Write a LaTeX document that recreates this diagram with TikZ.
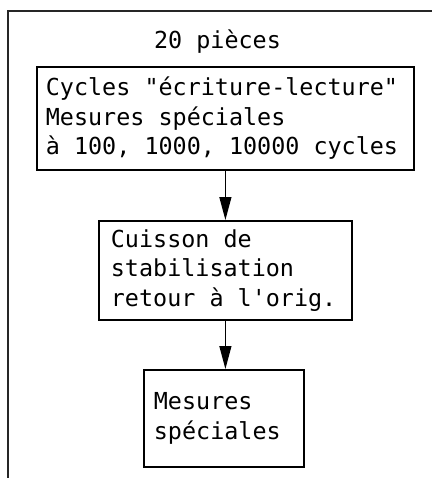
\documentclass[tikz,border=0pt]{standalone}
\usepackage{fontspec}
\setmonofont{DejaVu Sans Mono}
\usetikzlibrary{arrows.meta}
\newcommand\boxtextsetup{\raggedright\spaceskip=0pt\relax\xspaceskip=0pt\relax}
\begin{document}
\begin{tikzpicture}[x=1pt, y=1pt,
    txt/.style={font=\ttfamily\fontsize{23.4}{29.5}\selectfont},
    box/.style={txt, draw, line width=1.8pt, anchor=north west, inner ysep=0pt,
        execute at begin node=\boxtextsetup},
    flow/.style={line width=1.2pt, -{Triangle[length=23pt, width=12pt]}}]
    \useasboundingbox (0,0) rectangle (432,-478);
    \draw[line width=1.3pt, black!85] (8,-478) -- (8,-11) -- (432,-11);
    \node[txt] (title) at (217.5,-42) {20 pièces};
    \node[box, inner xsep=9pt, text width=359pt, minimum height=103pt] (cycles) at (36,-66)
        {Cycles "écriture-lecture"\\Mesures spéciales\\à 100, 1000, 10000 cycles};
    \node[box, inner xsep=12pt, text width=229pt, minimum height=99pt] (cuisson) at (98,-220)
        {Cuisson de\\stabilisation\\retour à l'orig.};
    \node[box, inner xsep=10pt, text width=140pt, minimum height=97pt] (mesures) at (143,-369)
        {Mesures\\spéciales};
    \draw[flow] (cycles.south) -- (cuisson.north);
    \draw[flow] (cuisson.south) -- (cuisson.south |- mesures.north);
\end{tikzpicture}
\end{document}
